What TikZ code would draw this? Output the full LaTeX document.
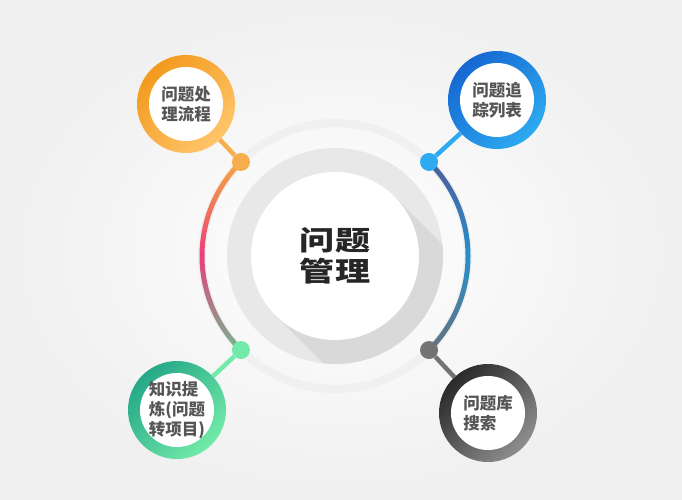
\documentclass[tikz,border=0pt]{standalone}
\usepackage{fontspec}
\newfontfamily\cjk{Noto Sans CJK SC}
\newfontfamily\hubcjk{Noto Sans CJK SC}[FakeStretch=1.3]
\definecolor{pmorange}{HTML}{F39A1E}
\definecolor{pmorangelt}{HTML}{FFC56A}
\definecolor{pmblue}{HTML}{1668D2}
\definecolor{pmbluelt}{HTML}{2DAAF0}
\definecolor{pmgreen}{HTML}{26A888}
\definecolor{pmgreenlt}{HTML}{72EAA8}
\definecolor{pmgray}{HTML}{2A2A2A}
\definecolor{pmgraylt}{HTML}{8E8E8E}
\definecolor{pmpink}{HTML}{E8407A}
\definecolor{pmslate}{HTML}{4E5C9A}
\definecolor{pmsteel}{HTML}{66717C}
\definecolor{pmtext}{HTML}{555555}
\usepackage{tikz}
\usetikzlibrary{calc}

\begin{document}
\begin{tikzpicture}[x=1pt, y=1pt,
    bubble/.style={circle, minimum size=98pt, inner sep=0pt,
                   font=\cjk\bfseries\fontsize{16.5}{20}\selectfont, text=pmtext, align=center,
                   path picture={\fill[white] (path picture bounding box.center) circle (37);}},
    hubdisk/.style={circle, fill=white, minimum size=168pt, inner sep=0pt, align=center,
                    font=\hubcjk\bfseries\fontsize{27}{31}\selectfont, text=black!85},
    joint/.style={circle, minimum size=18pt, inner sep=0pt},
    link/.style={line width=4.5pt}
  ]
  \useasboundingbox (0,0) rectangle (682,-500);
  \shade[inner color=white, outer color=black!6] (0,0) rectangle (682,-500);

  \coordinate (hub) at (335,-256);
  \draw[black!6, line width=8pt] (hub) circle (133);
  \shade[top color=pmorange!85, bottom color=pmgreenlt!70!black!80, middle color=pmpink]
    ($(hub)+(135:135.5)$) arc (135:225:135.5) -- ($(hub)+(225:130.5)$) arc (225:135:130.5) -- cycle;
  \shade[top color=pmslate, bottom color=pmsteel, middle color=pmbluelt!85!black]
    ($(hub)+(45:135.5)$) arc (45:-45:135.5) -- ($(hub)+(-45:130.5)$) arc (-45:45:130.5) -- cycle;

  \fill[black!9] (hub) circle (108);
  \begin{scope}
    \clip (hub) circle (108);
    \fill[black!15] ($(hub)+(45:84)$) -- ++(-45:220) -- ($(hub)+(225:84)+(-45:220)$)
      -- ($(hub)+(225:84)$) -- cycle;
  \end{scope}
  \node[hubdisk] (core) at (hub) {问题\\管理};

  \node[joint, fill=pmorange!80] (j1) at ($(hub)+(135:133)$) {};
  \node[joint, fill=pmbluelt] (j2) at ($(hub)+(45:133)$) {};
  \node[joint, fill=pmgreenlt] (j3) at ($(hub)+(225:133)$) {};
  \node[joint, fill=black!55] (j4) at ($(hub)+(-45:133)$) {};

  \node[bubble, top color=pmorange, bottom color=pmorangelt, shading angle=45] (b1) at (186,-104) {问题处\\理流程};
  \node[bubble, top color=pmblue, bottom color=pmbluelt, shading angle=45] (b2) at (497,-100) {问题追\\踪列表};
  \node[bubble, top color=pmgreen, bottom color=pmgreenlt, shading angle=45, align=left] (b3) at (177,-410) {知识提\\炼(问题\\转项目)};
  \node[bubble, top color=pmgray, bottom color=pmgraylt, shading angle=45, align=left] (b4) at (488,-413) {问题库\\搜索};

  \draw[link, pmorange!80] (j1) -- (b1);
  \draw[link, pmbluelt] (j2) -- (b2);
  \draw[link, pmgreenlt] (j3) -- (b3);
  \draw[link, black!55] (j4) -- (b4);
\end{tikzpicture}
\end{document}
